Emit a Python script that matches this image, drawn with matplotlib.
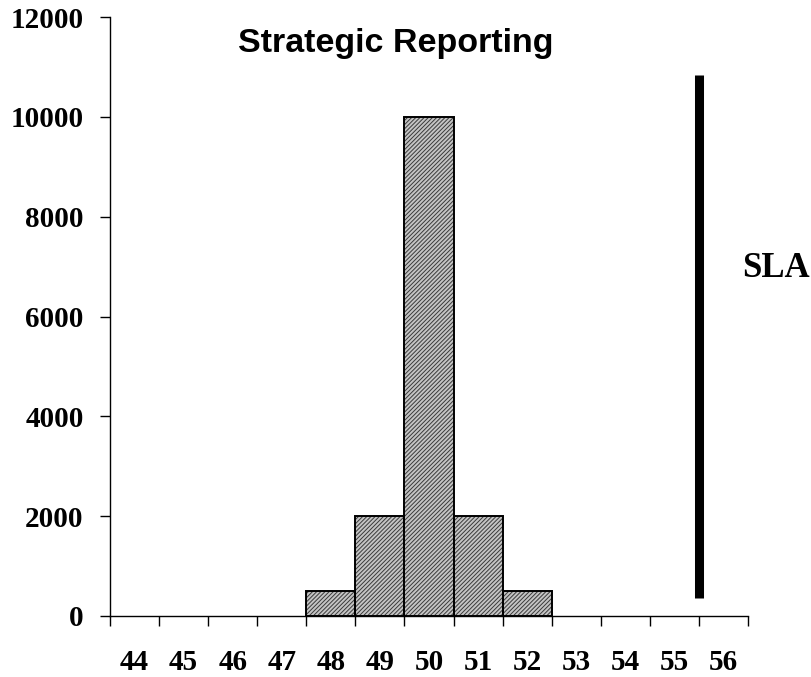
import matplotlib
matplotlib.use("Agg")
import matplotlib.pyplot as plt
import numpy as np

categories = [44, 45, 46, 47, 48, 49, 50, 51, 52, 53, 54, 55, 56]
counts = [0, 0, 0, 0, 500, 2000, 10000, 2000, 500, 0, 0, 0, 0]
sla_x = 55.5
sla_range = [360, 10840]
y_ticks = [0, 2000, 4000, 6000, 8000, 10000, 12000]
title = "Strategic Reporting"

plt.rcParams['hatch.linewidth'] = 0.7

fig = plt.figure(figsize=(8.11, 6.77), dpi=100)
ax = fig.add_axes([110/811, 1-616/677, (748-110)/811, (616-17)/677])

vals = np.array(counts)
mask = vals > 0
cats = np.array(categories)
ax.bar(cats[mask], vals[mask], width=1.0, color='#c4c4c4', edgecolor='#3a3a3a',
       hatch='////////', linewidth=0, zorder=2)
ax.bar(cats[mask], vals[mask], width=1.0, fill=False, edgecolor='black',
       linewidth=1.4, zorder=3)

ax.vlines(sla_x, sla_range[0], sla_range[1], color='black', linewidth=6.5, zorder=4)
fig.text(742/811, 1-277/677, "SLA", fontfamily='Liberation Serif', fontweight='bold',
         fontsize=25, va='baseline', ha='left')

ax.set_xlim(categories[0]-0.5, categories[-1]+0.5)
ax.set_ylim(0, 12000)
ax.set_yticks(y_ticks)
ax.set_yticklabels([str(v) for v in y_ticks])
ax.set_xticks(categories)
ax.set_xticklabels([str(c) for c in categories])
ax.set_xticks(np.arange(categories[0]-0.5, categories[-1]+0.51, 1.0), minor=True)

ax.tick_params(axis='x', which='major', length=0, pad=24)
ax.tick_params(axis='x', which='minor', length=7, width=1, direction='out')
ax.tick_params(axis='y', which='major', length=7, width=1, direction='out', pad=12)

for lab in ax.get_xticklabels() + ax.get_yticklabels():
    lab.set_fontfamily('Liberation Serif')
    lab.set_fontweight('bold')
    lab.set_fontsize(21)

ax.spines['top'].set_visible(False)
ax.spines['right'].set_visible(False)
ax.spines['left'].set_linewidth(1)
ax.spines['bottom'].set_linewidth(1)

fig.text(396/811, 1-52/677, title, fontfamily='Liberation Sans', fontweight='bold',
         fontsize=24.5, ha='center', va='baseline')

fig.savefig("out.png", dpi=100)
